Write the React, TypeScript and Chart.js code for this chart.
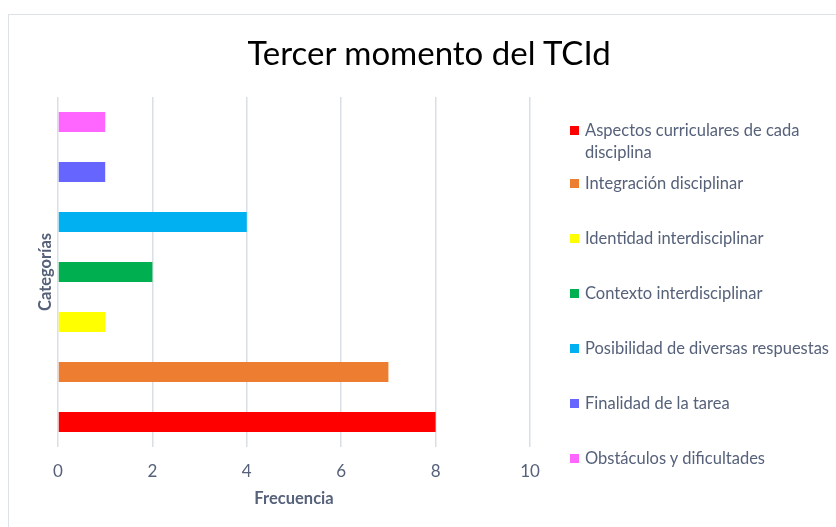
import React, { useEffect, useRef } from "react";
import { Chart, registerables } from "chart.js";

Chart.register(...registerables);

const chartTitle = "Tercer momento del TCId";
const categories = [
  "Aspectos curriculares de cada disciplina",
  "Integración disciplinar",
  "Identidad interdisciplinar",
  "Contexto interdisciplinar",
  "Posibilidad de diversas respuestas",
  "Finalidad de la tarea",
  "Obstáculos y dificultades",
];
const frequencies = [8, 7, 1, 2, 4, 1, 1];
const barColors = ["#ff0000", "#ed7d31", "#ffff00", "#00b050", "#00b0f0", "#6666ff", "#ff66ff"];
const xTicks = [0, 2, 4, 6, 8, 10];
const xTitle = "Frecuencia";
const yTitle = "Categorías";

const FONT = "Lato, 'Open Sans', sans-serif";
const TEXT = "#56617a";

export default function App() {
  const ref = useRef<HTMLCanvasElement | null>(null);

  useEffect(() => {
    if (!ref.current) return;
    const chart = new Chart(ref.current, {
      type: "bar",
      data: {
        labels: categories,
        datasets: [
          {
            data: frequencies,
            backgroundColor: barColors,
            borderWidth: 0,
            categoryPercentage: 0.8,
            barPercentage: 0.5,
          },
        ],
      },
      options: {
        indexAxis: "y",
        responsive: false,
        animation: false,
        layout: { padding: { left: 32, top: 97, right: 306, bottom: 14 } },
        plugins: { legend: { display: false }, title: { display: false }, tooltip: { enabled: false } },
        scales: {
          x: {
            min: 0,
            max: 10,
            afterBuildTicks: (scale: any) => {
              scale.ticks = xTicks.map((v) => ({ value: v }));
            },
            afterFit: (scale: any) => {
              scale.height = 66;
            },
            grid: { color: "#dadfe6", lineWidth: 1.5, drawTicks: false },
            border: { display: false },
            ticks: { color: TEXT, font: { family: FONT, size: 17 }, padding: 14 },
            title: {
              display: true,
              text: xTitle,
              color: TEXT,
              font: { family: FONT, size: 16.5, weight: "bold" },
            },
          },
          y: {
            reverse: true,
            afterFit: (scale: any) => {
              scale.width = 26;
            },
            grid: { display: false },
            border: { display: false },
            ticks: { display: false },
            title: {
              display: true,
              text: yTitle,
              color: TEXT,
              font: { family: FONT, size: 16.5, weight: "bold" },
            },
          },
        },
      },
    });
    return () => chart.destroy();
  }, []);

  return (
    <div style={{ position: "fixed", left: 0, top: 0, width: 836, height: 527, background: "#fff", overflow: "hidden" }}>
      <div
        style={{
          position: "absolute",
          left: 8,
          top: 14,
          width: 840,
          height: 530,
          border: "1.5px solid #dde2e8",
          boxSizing: "border-box",
        }}
      />
      <canvas ref={ref} width={836} height={527} style={{ position: "absolute", left: 0, top: 0, width: 836, height: 527 }} />
      <div
        style={{
          position: "absolute",
          left: 179,
          width: 500,
          top: 31,
          textAlign: "center",
          fontFamily: FONT,
          fontSize: 33,
          lineHeight: "42px",
          color: "#000",
        }}
      >
        {chartTitle}
      </div>
      <div style={{ position: "absolute", left: 570, top: 119, width: 266, fontFamily: FONT, fontSize: 16.5, color: TEXT }}>
        {categories.map((c, i) => (
          <div key={c} style={{ display: "flex", alignItems: "flex-start", marginBottom: i === 0 ? 9 : 33 }}>
            <span
              style={{
                display: "inline-block",
                width: 9,
                height: 9,
                background: barColors[i],
                marginTop: 7,
                marginRight: 6,
                flex: "0 0 auto",
              }}
            />
            <span style={{ lineHeight: "22px", width: 251, whiteSpace: i === 0 ? "normal" : "nowrap" }}>{c}</span>
          </div>
        ))}
      </div>
    </div>
  );
}
